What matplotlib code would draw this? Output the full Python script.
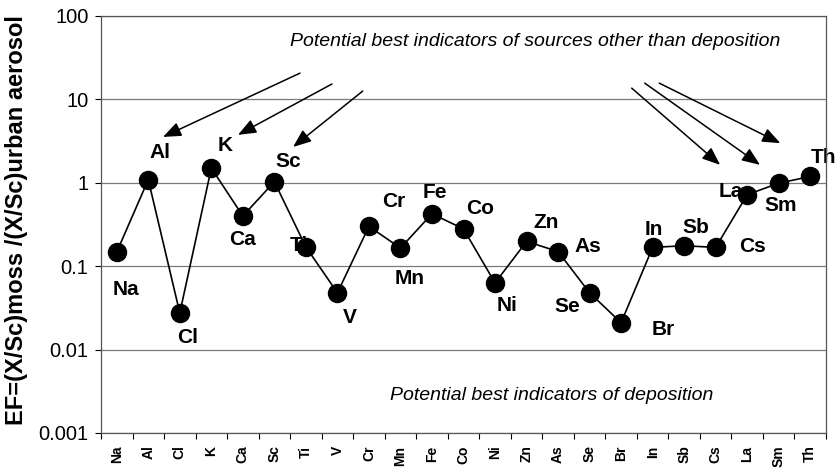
import numpy as np
import matplotlib
matplotlib.use("Agg")
from matplotlib import pyplot as plt
from matplotlib.ticker import FixedLocator, NullFormatter, NullLocator

plt.rcParams['font.family'] = ['Liberation Sans', 'DejaVu Sans']

elements = ['Na', 'Al', 'Cl', 'K', 'Ca', 'Sc', 'Ti', 'V', 'Cr', 'Mn', 'Fe', 'Co',
            'Ni', 'Zn', 'As', 'Se', 'Br', 'In', 'Sb', 'Cs', 'La', 'Sm', 'Th']
ef = [0.148, 1.09, 0.0275, 1.5, 0.40, 1.03, 0.17, 0.048, 0.30, 0.165, 0.425, 0.28,
      0.063, 0.198, 0.15, 0.048, 0.021, 0.168, 0.176, 0.168, 0.72, 0.99, 1.19]
yticks = [0.001, 0.01, 0.1, 1, 10, 100]
ytick_labels = ['0.001', '0.01', '0.1', '1', '10', '100']

# label offsets in points (dx, dy) relative to each point
label_off = [(6.5, -27), (8.6, 19.4), (5.8, -18), (10, 16.5), (0, -17), (10, 14.4), (-5, 1.4),
             (8.6, -18), (18, 18), (6.5, -21.6), (2, 15), (12, 15), (8.6, -16), (14.4, 13.7),
             (21.6, 3.6), (-15.8, -10), (30, -5), (0.7, 13), (8.6, 13), (26.6, 0.7), (-12, 2),
             (1.4, -16), (9.4, 13.7)]

x = np.arange(len(elements)) + 0.5

fig = plt.figure(figsize=(8.4, 4.7), dpi=100)
ax = fig.add_axes([101 / 840, 1 - 433 / 470, 725 / 840, 417 / 470])

ax.plot(x, ef, color='black', lw=1.2, marker='o', ms=13, mfc='black', mec='black', zorder=3)

for xi, v, name, (dx, dy) in zip(x, ef, elements, label_off):
    ax.annotate(name, (xi, v), xytext=(dx, dy), textcoords='offset points',
                ha='center', va='center', fontsize=15, fontweight='bold', zorder=2,
                annotation_clip=False)

ax.set_yscale('log')
ax.set_ylim(0.001, 100)
ax.set_xlim(0, len(elements))
ax.yaxis.set_major_locator(FixedLocator(yticks))
ax.yaxis.set_minor_locator(NullLocator())
ax.set_yticklabels(ytick_labels, fontsize=14.5)
ax.grid(axis='y', color='#7a7a7a', lw=0.9)

ax.xaxis.set_major_locator(FixedLocator(np.arange(len(elements) + 1)))
ax.xaxis.set_major_formatter(NullFormatter())
ax.xaxis.set_minor_locator(FixedLocator(x))
ax.set_xticklabels(elements, minor=True, rotation=90, fontsize=10, fontweight='bold')
ax.tick_params(axis='x', which='minor', length=0, pad=9)
ax.tick_params(axis='x', which='major', length=4, direction='out')
ax.tick_params(axis='y', length=4, direction='out', pad=5)

for s in ax.spines.values():
    s.set_color('#555555')
    s.set_linewidth(0.9)

ax.text(-0.117, 0.51, 'EF=(X/Sc)moss /(X/Sc)urban aerosol', transform=ax.transAxes,
        rotation=90, ha='center', va='center', fontsize=17, fontweight='bold')

ax.text(0.599, 0.940, 'Potential best indicators of sources other than deposition',
        transform=ax.transAxes, ha='center', va='center', style='italic', fontsize=14)
ax.text(0.621, 0.089, 'Potential best indicators of deposition',
        transform=ax.transAxes, ha='center', va='center', style='italic', fontsize=14)

arrows = [((0.2745, 0.863), (0.0855, 0.710)),
          ((0.3186, 0.837), (0.189, 0.715)),
          ((0.361, 0.820), (0.265, 0.686)),
          ((0.732, 0.827), (0.854, 0.643)),
          ((0.750, 0.839), (0.909, 0.643)),
          ((0.770, 0.839), (0.937, 0.695))]
for start, end in arrows:
    ax.annotate('', xy=end, xytext=start, xycoords='axes fraction', textcoords='axes fraction',
                arrowprops=dict(arrowstyle='-|>,head_length=0.55,head_width=0.22', color='black',
                                lw=1.1, mutation_scale=20, shrinkA=0, shrinkB=0))

fig.savefig('out.png', dpi=100)
